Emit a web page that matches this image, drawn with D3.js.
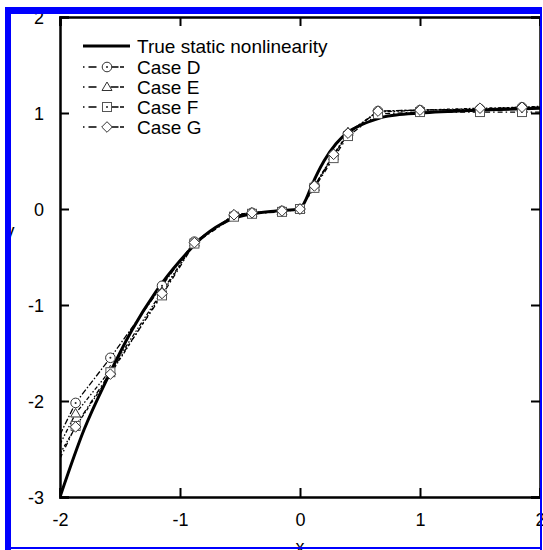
<!DOCTYPE html>
<html>
<head>
<meta charset="utf-8">
<script src="https://cdn.jsdelivr.net/npm/d3@7"></script>
<style>
  body { margin: 0; background: #fff; }
  text { font-family: Arial, "Liberation Sans", sans-serif; }
</style>
</head>
<body>
<div id="chart"></div>
<script>
// data
var trueX = [-2, -1.8, -1.6, -1.4, -1.2, -1.0, -0.8, -0.6, -0.4, -0.2, 0, 0.05, 0.1, 0.2, 0.3, 0.4, 0.5, 0.6, 0.7, 0.8, 1.0, 1.5, 2.0];
var trueY = [-3, -2.3, -1.75, -1.26, -0.86, -0.54, -0.28, -0.12, -0.05, -0.02, 0, 0.1, 0.25, 0.5, 0.68, 0.8, 0.87, 0.92, 0.96, 0.98, 1.0, 1.03, 1.05];

var caseX = [-2, -1.87, -1.58, -1.15, -0.88, -0.55, -0.4, -0.15, 0, 0.12, 0.28, 0.4, 0.65, 1.0, 1.5, 1.85, 2];
var caseD = [-2.35, -2.02, -1.55, -0.80, -0.34, -0.07, -0.04, -0.02, 0.0, 0.24, 0.56, 0.78, 1.02, 1.03, 1.04, 1.06, 1.06];
var caseE = [-2.45, -2.13, -1.68, -0.86, -0.35, -0.06, -0.04, -0.02, 0.0, 0.23, 0.55, 0.80, 1.01, 1.03, 1.04, 1.05, 1.05];
var caseF = [-2.6, -2.26, -1.70, -0.90, -0.36, -0.08, -0.05, -0.03, 0.0, 0.22, 0.53, 0.76, 0.99, 1.01, 1.01, 1.01, 1.01];
var caseG = [-2.55, -2.27, -1.72, -0.88, -0.35, -0.06, -0.04, -0.02, 0.0, 0.24, 0.57, 0.79, 1.02, 1.03, 1.05, 1.06, 1.07];

var xTicks = [-2, -1, 0, 1, 2];
var yTicks = [-3, -2, -1, 0, 1, 2];

var cases = [
  {name: "Case D", y: caseD, symbol: "circle", dash: "6,2,1.5,2"},
  {name: "Case E", y: caseE, symbol: "triangle", dash: "4,2,1.5,2,1.5,2"},
  {name: "Case F", y: caseF, symbol: "square", dash: "5,3,1.5,3"},
  {name: "Case G", y: caseG, symbol: "diamond", dash: "3,2,1.5,2"}
];

var svgWidth = 543, svgHeight = 550;
var margin = {top: 17, left: 60};
var width = 480, height = 480;

var svg = d3.select("#chart").append("svg")
  .attr("width", svgWidth)
  .attr("height", svgHeight);

var g = svg.append("g")
  .attr("transform", `translate(${margin.left}, ${margin.top})`);

var x = d3.scaleLinear().domain([-2, 2]).range([0, width]);
var y = d3.scaleLinear().domain([-3, 2]).range([height, 0]);

// axes, ticks inward on all four sides; plain hyphen for minus
var fmt = d => String(d);
var axB = g.append("g").attr("transform", `translate(0, ${height})`)
  .call(d3.axisBottom(x).tickValues(xTicks).tickSize(-9).tickPadding(16).tickFormat(fmt));
var axT = g.append("g")
  .call(d3.axisTop(x).tickValues(xTicks).tickSize(-9).tickFormat(""));
var axL = g.append("g")
  .call(d3.axisLeft(y).tickValues(yTicks).tickSize(-9).tickPadding(16).tickFormat(fmt));
var axR = g.append("g").attr("transform", `translate(${width}, 0)`)
  .call(d3.axisRight(y).tickValues(yTicks).tickSize(-9).tickFormat(""));

[axB, axT, axL, axR].forEach(function(a) {
  a.select(".domain").attr("stroke", "#000").attr("stroke-width", 2.5);
  a.selectAll(".tick line").attr("stroke", "#000").attr("stroke-width", 2);
  a.selectAll(".tick text").attr("fill", "#000").style("font-size", "18px")
    .style("font-family", "Arial, 'Liberation Sans', sans-serif");
});
axL.selectAll(".tick text").attr("dy", "0.35em");

// axis labels
g.append("text")
  .attr("x", width / 2)
  .attr("y", height + 56)
  .attr("text-anchor", "middle")
  .style("font-size", "18px")
  .text("x");
g.append("text")
  .attr("x", -50)
  .attr("y", height / 2 - 20)
  .attr("text-anchor", "middle")
  .style("font-size", "18px")
  .text("y");

g.append("defs").append("clipPath").attr("id", "clip")
  .append("rect").attr("width", width).attr("height", height);

var line = d3.line()
  .x(d => x(d[0]))
  .y(d => y(d[1]));

var plot = g.append("g").attr("clip-path", "url(#clip)");

// case lines
cases.forEach(function(c) {
  var pts = caseX.map((v, i) => [v, c.y[i]]);
  plot.append("path")
    .datum(pts)
    .attr("d", line)
    .attr("fill", "none")
    .attr("stroke", "#000")
    .attr("stroke-width", 1.3)
    .attr("stroke-dasharray", c.dash);
});

// true curve
plot.append("path")
  .datum(trueX.map((v, i) => [v, trueY[i]]))
  .attr("d", line.curve(d3.curveMonotoneX))
  .attr("fill", "none")
  .attr("stroke", "#000")
  .attr("stroke-width", 3);

function drawMarker(sel, type, cx, cy) {
  var s = sel.append("g").attr("transform", `translate(${cx}, ${cy})`);
  if (type === "circle") {
    s.append("circle").attr("r", 4.8).attr("fill", "#fff").attr("stroke", "#333").attr("stroke-width", 1);
    s.append("circle").attr("r", 1).attr("fill", "#222");
  } else if (type === "square") {
    s.append("rect").attr("x", -4.5).attr("y", -4.5).attr("width", 9).attr("height", 9)
      .attr("fill", "#fff").attr("stroke", "#555").attr("stroke-width", 1);
    s.append("circle").attr("r", 1).attr("fill", "#222");
  } else if (type === "triangle") {
    s.append("path").attr("d", "M0,-5L5,3.5L-5,3.5Z")
      .attr("fill", "#fff").attr("stroke", "#333").attr("stroke-width", 1);
  } else {
    s.append("path").attr("d", "M0,-5.3L5.3,0L0,5.3L-5.3,0Z")
      .attr("fill", "#fff").attr("stroke", "#333").attr("stroke-width", 1);
  }
}

// markers at interior knots
cases.forEach(function(c) {
  caseX.forEach(function(v, i) {
    if (i === 0 || i === caseX.length - 1) return;
    drawMarker(plot, c.symbol, x(v), y(c.y[i]));
  });
});

// legend
var leg = svg.append("g");
var rowY = [46, 67, 87, 107, 127];
leg.append("line")
  .attr("x1", 83).attr("x2", 130)
  .attr("y1", rowY[0]).attr("y2", rowY[0])
  .attr("stroke", "#000").attr("stroke-width", 3);
leg.append("text")
  .attr("x", 137).attr("y", rowY[0]).attr("dy", "0.35em")
  .style("font-size", "19px")
  .text("True static nonlinearity");

cases.forEach(function(c, i) {
  var yy = rowY[i + 1];
  leg.append("line").attr("x1", 83).attr("x2", 126).attr("y1", yy).attr("y2", yy)
    .attr("stroke", "#000").attr("stroke-width", 1.3).attr("stroke-dasharray", "1.5,4,8,14,8");
  drawMarker(leg, c.symbol, 107, yy);
  leg.append("text")
    .attr("x", 137).attr("y", yy).attr("dy", "0.35em")
    .style("font-size", "19px")
    .text(c.name);
});

// blue frame
svg.append("rect").attr("x", 5).attr("y", 7).attr("width", 6).attr("height", 543).attr("fill", "#0000ff");
svg.append("rect").attr("x", 5).attr("y", 7).attr("width", 537).attr("height", 7).attr("fill", "#0000ff");
svg.append("rect").attr("x", 540).attr("y", 7).attr("width", 2).attr("height", 543).attr("fill", "#0000ff");
svg.append("rect").attr("x", 5).attr("y", 547).attr("width", 537).attr("height", 2).attr("fill", "#0000ff");
</script>
</body>
</html>
